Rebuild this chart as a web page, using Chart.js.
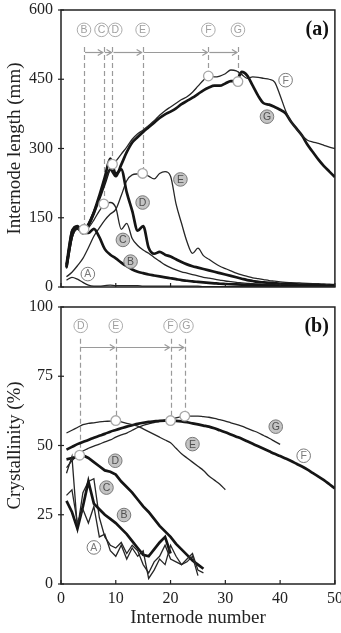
<!DOCTYPE html>
<html><head><meta charset="utf-8">
<script src="https://cdn.jsdelivr.net/npm/chart.js@4/dist/chart.umd.min.js"></script>
<style>
html,body{margin:0;padding:0;background:#fff;overflow:hidden}
#wrap{position:relative;width:341px;height:633px}
canvas{position:absolute;left:0;top:0}
</style></head><body>
<div id="wrap"><canvas id="cb" width="341" height="633"></canvas><canvas id="ca" width="341" height="633"></canvas></div>
<script>
// ---------- DATA ----------
const internodes = [1,2,3,4,5,6,7,8,9,10,11,12,13,14,15,16,17,18,19,20,21,22,23,24,25,26,27,28,29,30,31,32,33,34,35,36,37,38,39,40,41,42,43,44,45,46,47,48,49,50];
const xTicks = [0,10,20,30,40,50];
const lengthTicks = [0,150,300,450,600];
const crystTicks = [0,25,50,75,100];

// Panel (a): internode length (mm)
const lengthA = [15,21,17,10,4,2,2,3,4,3,3,3,3,3,2,2,2,2,2,2,2,2,2,2,2,1,1,1,1,1,1,1,1,1,1,1,1,1,1,1,1,1,1,1,1,1,1,1,1,1];
const lengthB = [42,112,128,118,117,126,108,82,70,62,53,45,38,33,30,27,25,23,21,19,17,15,13.5,12,11,10,9,8,7,6.5,6,5.5,5,4.5,4,3.6,3.3,3,2.8,2.6,2.4,2.2,2,1.9,1.8,1.7,1.6,1.5,1.4,1.3];
const lengthC = [40,105,125,120,128,145,165,180,183,172,125,138,105,90,80,73,64,56,48,42,37,33,30,27,24,21,19,17,15,13,11.5,10,9,8,7,6.5,6,5.5,5,4.5,4,3.8,3.6,3.4,3.2,3,2.8,2.6,2.4,2.2];
const lengthD = [48,120,132,118,135,162,198,238,278,245,255,205,165,122,132,85,72,76,70,66,60,54,49,45,42,39,36,33,30,27,24,21,18,15,13,11,10,9,8,7,6.5,6,5.5,5,4.5,4,3.7,3.4,3.1,2.8];
const lengthE = [22,32,46,62,85,110,128,145,158,168,198,230,243,245,246,240,234,246,250,240,180,138,98,73,84,68,60,52,45,40,35,30,26,23,20,18,16,14,12.5,11,10,9.5,9,8.5,8,7.5,7,6.5,6,5.5];
const lengthF = [50,125,130,120,138,165,195,228,255,272,288,303,320,332,340,350,360,372,382,390,398,406,412,422,435,448,457,455,457,462,470,468,460,452,455,454,452,450,444,415,382,358,342,328,318,314,311,307,303,300];
const lengthG = [44,110,128,116,133,160,192,225,255,240,265,292,313,325,336,346,356,366,374,380,387,396,403,410,418,426,432,436,436,441,446,446,466,458,436,414,398,395,390,384,376,358,343,328,308,292,276,262,250,238];

// Panel (b): crystallinity (%)
const crystA = [32,34,22,27,22,28,17,18,12,10,14,9,13,10,12,2,5,9,7,14,10,7,8,10,3];
const crystB = [30,26,20,28,37,29,27,25,23.5,22,20,18,15.5,13,10.5,10,12.5,15,17,11];
const crystC = [40,46,20,33,37,38,24,17,14,13,15,11,14,12,7,4,8,10,14,9,8,7,9,11,5,4];
const crystD = [45,45.5,46,46.5,45.5,44,42.5,41,40.5,39.5,37,35,33,30.5,28,26,23.5,21,19,17,14.5,12.5,10.5,8.5,7,5.5];
const crystE = [54.5,55.5,56.5,57.5,58,58.2,58.5,58.7,58.8,59,58.5,58,57.5,57,56,55,54,53,52,51,49,47,45.5,44,42.5,41,39,37.5,36,34];
const crystF = [48.5,49.5,50.5,51.3,52,52.8,53.5,54.2,55,55.6,56.2,56.8,57.3,57.8,58.2,58.5,58.7,58.9,59,59,58.9,58.7,58.4,58,57.6,57.2,56.8,56.2,55.5,54.8,54,53.2,52.4,51.5,50.6,49.7,48.8,47.9,47,46.2,45.3,44.4,43.4,42.4,41.3,40,38.8,37.5,36,34.5];
const crystG = [42,44.5,46.5,48,49,49.8,50.5,51.3,52,53,53.8,54.5,55.5,56.5,57.3,57.8,58.3,58.7,59.2,59.5,60,60.4,60.6,60.6,60.6,60.4,60.2,59.8,59.3,58.8,58.2,57.6,57,56.2,55.4,54.6,53.6,52.6,51.5,50.4];

// transition markers (open circles)
const transLettersA = ['B','C','D','E','F','G'];
const transNodesA = [4.2,7.8,9.4,14.9,26.9,32.3];
const transValuesA = [125,180,266,246,457,445];
const transLettersB = ['D','E','F','G'];
const transNodesB = [3.4,10,20,22.6];
const transValuesB = [46.5,59,59,60.6];

// ---------- annotation layout (positions in data units) ----------
const topLabelsA = {y:557, arrowY:510, dashTop:520, xs:[4.2,7.4,9.9,14.9,26.9,32.3]};
const topLabelsB = {y:93.2, arrowY:85.7, dashTop:88.5, xs:[3.6,10,20,22.9]};
const curveLabelsA = [
  {t:'A',x:4.9,y:28,g:false},{t:'B',x:12.7,y:55,g:true},{t:'C',x:11.3,y:102,g:true},
  {t:'D',x:14.9,y:183,g:true},{t:'E',x:21.8,y:233,g:true},{t:'F',x:41,y:448,g:false},{t:'G',x:37.6,y:369,g:true}];
const curveLabelsB = [
  {t:'A',x:6,y:13.2,g:false},{t:'B',x:11.5,y:24.9,g:true},{t:'C',x:8.3,y:34.8,g:true},
  {t:'D',x:9.9,y:44.5,g:true},{t:'E',x:24,y:50.5,g:true},{t:'F',x:44.3,y:46.3,g:false},{t:'G',x:39.2,y:56.8,g:true}];

// ---------- helpers ----------
const INK = '#151515';
const SERIF = '"Liberation Serif","Times New Roman",serif';
function pts(arr){ return arr.map((v,i)=>({x:internodes[i], y:v})); }
function line(arr, thick, smooth){
  return {data:pts(arr), borderColor: thick?INK:'#262626', borderWidth: thick?2.7:1.3, pointRadius:0,
    fill:false, tension: smooth?0.4:0, cubicInterpolationMode: smooth?'monotone':'default'};
}
function markerSet(nodes, values){
  return {type:'scatter', data:nodes.map((n,i)=>({x:n,y:values[i]})), showLine:false,
    pointRadius:4.8, pointBackgroundColor:'#fff', pointBorderColor:'#a8a8a8', pointBorderWidth:1.3, order:-1};
}
function circLabel(ctx,x,y,t,style){
  ctx.save();
  ctx.beginPath(); ctx.arc(x,y,6.8,0,Math.PI*2);
  ctx.fillStyle = style==='gray' ? '#c4c4c4' : '#ffffff';
  ctx.fill();
  ctx.lineWidth=1; ctx.strokeStyle = style==='top' ? '#ababab' : '#7a7a7a'; ctx.stroke();
  ctx.fillStyle = style==='top' ? '#a0a0a0' : (style==='gray' ? '#505050':'#7a7a7a');
  ctx.font='10.5px "Liberation Sans",Arial,sans-serif';
  ctx.textAlign='center'; ctx.textBaseline='middle';
  ctx.fillText(t,x,y+0.5);
  ctx.restore();
}
function makePlugin(letterX, markerNodes, markerVals, top, curveLabels, panelTag){
  return {
    id:'anno'+panelTag,
    beforeDatasetsDraw(chart){
      const ctx=chart.ctx, xs=chart.scales.x, ys=chart.scales.y;
      ctx.save();
      ctx.strokeStyle='#9a9a9a'; ctx.lineWidth=1.2; ctx.setLineDash([5,3]);
      markerNodes.forEach((n,i)=>{
        const px=Math.round(xs.getPixelForValue(n))+0.5;
        ctx.beginPath(); ctx.moveTo(px, ys.getPixelForValue(top.dashTop));
        ctx.lineTo(px, ys.getPixelForValue(markerVals[i])); ctx.stroke();
      });
      ctx.setLineDash([]);
      const ay=Math.round(ys.getPixelForValue(top.arrowY))+0.5;
      for(let i=0;i<markerNodes.length-1;i++){
        const x1=xs.getPixelForValue(markerNodes[i])+1, x2=xs.getPixelForValue(markerNodes[i+1])-1;
        ctx.beginPath(); ctx.moveTo(x1,ay); ctx.lineTo(x2,ay); ctx.stroke();
        ctx.beginPath(); ctx.moveTo(x2-5,ay-3); ctx.lineTo(x2,ay); ctx.lineTo(x2-5,ay+3); ctx.stroke();
      }
      ctx.restore();
    },
    afterDatasetsDraw(chart){
      const ctx=chart.ctx, xs=chart.scales.x, ys=chart.scales.y, a=chart.chartArea;
      letterX.forEach((t,i)=> circLabel(ctx, xs.getPixelForValue(top.xs[i]), ys.getPixelForValue(top.y), t, 'top'));
      curveLabels.forEach(l=> circLabel(ctx, xs.getPixelForValue(l.x), ys.getPixelForValue(l.y), l.t, l.g?'gray':'white'));
      ctx.save();
      ctx.strokeStyle='#222'; ctx.lineWidth=1.5;
      ctx.strokeRect(a.left, a.top, a.right-a.left, a.bottom-a.top);
      ctx.lineWidth=1.2;
      xTicks.forEach(v=>{ const px=xs.getPixelForValue(v); ctx.beginPath(); ctx.moveTo(px,a.bottom); ctx.lineTo(px,a.bottom-4); ctx.stroke(); });
      chart.scales.y.ticks.forEach(t=>{ const py=ys.getPixelForValue(t.value); ctx.beginPath(); ctx.moveTo(a.left-3,py); ctx.lineTo(a.left+3,py); ctx.stroke(); });
      ctx.fillStyle='#111'; ctx.font='bold 20px '+SERIF; ctx.textAlign='right'; ctx.textBaseline='middle';
      ctx.fillText(panelTag, a.right-6, a.top+20);
      ctx.restore();
    }
  };
}
function yAxis(min,max,step,title){
  return {min:min,max:max, ticks:{stepSize:step, color:'#222', padding:8, font:{family:SERIF,size:16}},
    grid:{display:false, drawTicks:false}, border:{display:false},
    title:{display:true, text:title, color:'#222', font:{family:SERIF,size:19}, padding:{top:4,bottom:0}},
    afterFit(s){ s.width=61; s.paddingTop=0; s.paddingBottom=0; }};
}
const common = {responsive:false, animation:false, events:[],
  plugins:{legend:{display:false}, tooltip:{enabled:false}}};

// ---------- Panel (a) ----------
new Chart(document.getElementById('ca'), {
  type:'line',
  data:{datasets:[
    line(lengthA,false,true), line(lengthB,true,true), line(lengthC,false,true), line(lengthD,true,true),
    line(lengthE,false,true), line(lengthF,false,true), line(lengthG,true,true),
    markerSet(transNodesA, transValuesA)]},
  options:Object.assign({}, common, {
    layout:{padding:{top:10,bottom:346,left:0,right:1}},
    scales:{
      x:{type:'linear', min:0, max:50, ticks:{display:false, stepSize:10}, grid:{display:false, drawTicks:false}, border:{display:false},
         afterFit(s){ s.height=0; s.paddingLeft=0; s.paddingRight=0; }},
      y:yAxis(0,600,150,'Internode length (mm)')
    }
  }),
  plugins:[makePlugin(transLettersA, transNodesA, transValuesA, topLabelsA, curveLabelsA, '(a)')]
});

// ---------- Panel (b) ----------
new Chart(document.getElementById('cb'), {
  type:'line',
  data:{datasets:[
    line(crystA,false,false), line(crystB,true,false), line(crystC,false,false), line(crystD,true,false),
    line(crystE,false,true), line(crystF,true,true), line(crystG,false,true),
    markerSet(transNodesB, transValuesB)]},
  options:Object.assign({}, common, {
    layout:{padding:{top:307,bottom:0,left:0,right:1}},
    scales:{
      x:{type:'linear', min:0, max:50, ticks:{stepSize:10, color:'#222', padding:5, font:{family:SERIF,size:16}, maxRotation:0},
         grid:{display:false, drawTicks:false}, border:{display:false},
         title:{display:true, text:'Internode number', color:'#222', font:{family:SERIF,size:19}, padding:{top:0,bottom:4}},
         afterFit(s){ s.height=49; s.paddingLeft=0; s.paddingRight=0; }},
      y:yAxis(0,100,25,'Crystallinity (%)')
    }
  }),
  plugins:[makePlugin(transLettersB, transNodesB, transValuesB, topLabelsB, curveLabelsB, '(b)')]
});
</script>
</body></html>
